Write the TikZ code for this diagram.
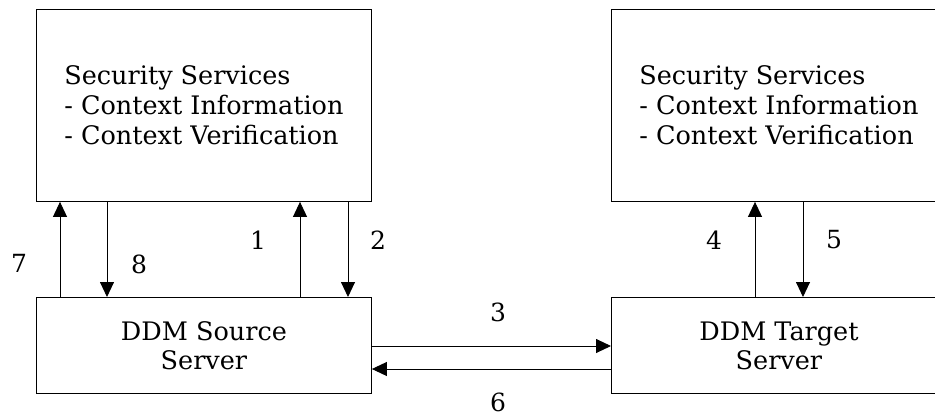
\documentclass[tikz,border=0pt]{standalone}
\usepackage{fontspec}
\setmainfont{DejaVu Serif}
\usetikzlibrary{arrows.meta}
\begin{document}
\begin{tikzpicture}[x=1pt,y=-1pt,
  box/.style={draw, line width=0.9pt, inner sep=0pt, minimum width=335pt, anchor=north west, align=left, font=\fontsize{25.5}{30}\selectfont},
  srv/.style={draw, line width=0.9pt, inner sep=0pt, minimum width=335pt, minimum height=96pt, anchor=north west, align=center, font=\fontsize{25.5}{29}\selectfont},
  arr/.style={line width=0.9pt, -{Triangle[length=15pt,width=14pt]}},
  lbl/.style={font=\fontsize{25}{30}\selectfont, inner sep=0pt}]
\clip (0,0) rectangle (935,417);
\useasboundingbox (0,0) rectangle (935,417);
\node[box, minimum height=191.5pt] (secL) at (36,9.5) {Security Services\\- Context Information\\- Context Verification};
\node[box, minimum height=191.5pt] (secR) at (611,9.5) {Security Services\\- Context Information\\- Context Verification};
\node[srv] (src) at (36,297) {DDM Source\\Server};
\node[srv] (tgt) at (611,297) {DDM Target\\Server};
% left verticals
\draw[arr] (src.north -| 60,0) -- (secL.south -| 60,0);
\draw[arr] (secL.south -| 107,0) -- (src.north -| 107,0);
\draw[arr] (src.north -| 300,0) -- (secL.south -| 300,0);
\draw[arr] (secL.south -| 348,0) -- (src.north -| 348,0);
% right verticals
\draw[arr] (tgt.north -| 755,0) -- (secR.south -| 755,0);
\draw[arr] (secR.south -| 803,0) -- (tgt.north -| 803,0);
% horizontals
\draw[arr] (src.east |- 0,346) -- (tgt.west |- 0,346);
\draw[arr] (tgt.west |- 0,369) -- (src.east |- 0,369);
% labels
\node[lbl] (l7) at (19,263) {7};
\node[lbl] (l8) at (139,264) {8};
\node[lbl] (l1) at (258,240) {1};
\node[lbl] (l2) at (378,240) {2};
\node[lbl] (l3) at (498,312) {3};
\node[lbl] (l4) at (714,240) {4};
\node[lbl] (l5) at (834,240) {5};
\node[lbl] (l6) at (498,402) {6};
\end{tikzpicture}
\end{document}
